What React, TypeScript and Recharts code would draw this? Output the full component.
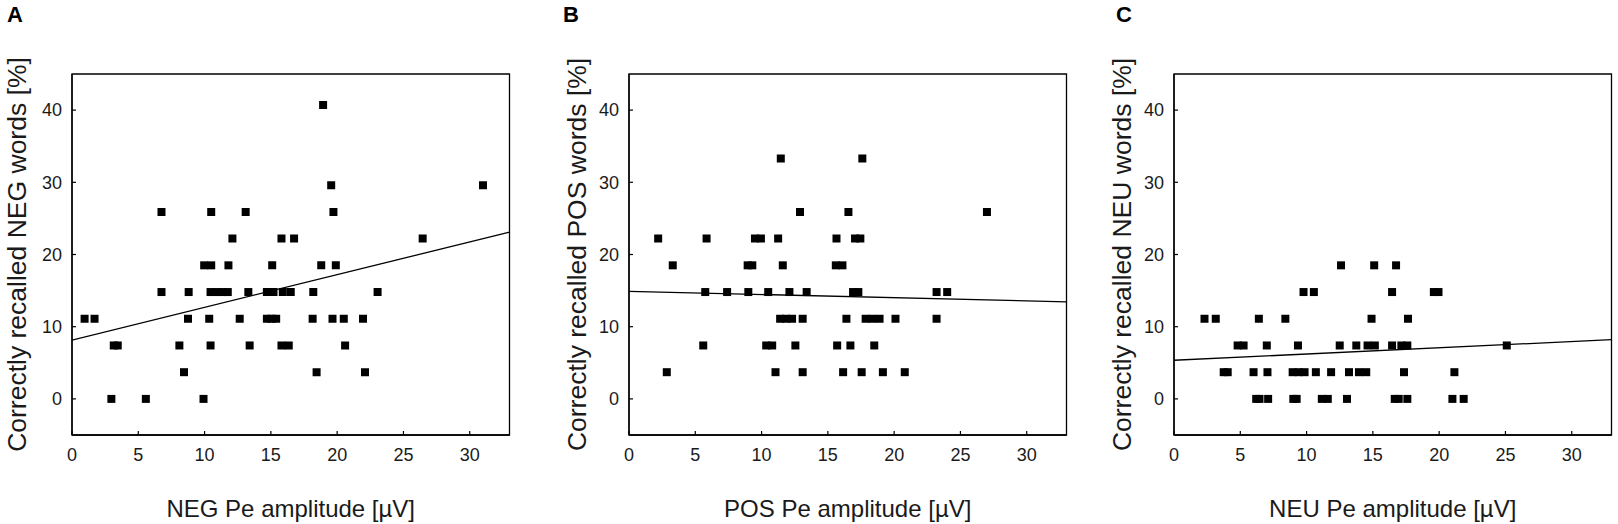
import React from "react";
import { Label, ReferenceArea, Scatter, ScatterChart, XAxis, YAxis, ZAxis } from "recharts";

const xTicks = [0, 5, 10, 15, 20, 25, 30];
const yTicks = [0, 10, 20, 30, 40];
const fitX = [0, 33];

// NEG panel
const negAmplitude = [
  18.94, 19.55, 31.0, 6.75, 10.5, 13.1, 19.72, 12.1, 15.8, 16.75, 26.45,
  9.97, 10.5, 11.8, 15.1, 18.8, 19.9,
  6.75, 8.8, 10.45, 10.9, 11.35, 11.75, 13.3, 14.7, 15.2, 15.9, 16.5, 18.2, 23.05,
  0.95, 1.7, 8.75, 10.35, 12.65, 14.7, 15.05, 15.4, 18.15, 19.65, 20.5, 21.95,
  3.15, 3.45, 8.1, 10.45, 13.4, 15.8, 16.35, 20.6,
  8.45, 18.45, 22.1, 2.97, 5.57, 9.92,
];
const negRecall = [
  40.7, 29.6, 29.6, 25.9, 25.9, 25.9, 25.9, 22.2, 22.2, 22.2, 22.2,
  18.5, 18.5, 18.5, 18.5, 18.5, 18.5,
  14.8, 14.8, 14.8, 14.8, 14.8, 14.8, 14.8, 14.8, 14.8, 14.8, 14.8, 14.8, 14.8,
  11.1, 11.1, 11.1, 11.1, 11.1, 11.1, 11.1, 11.1, 11.1, 11.1, 11.1, 11.1,
  7.4, 7.4, 7.4, 7.4, 7.4, 7.4, 7.4, 7.4,
  3.7, 3.7, 3.7, 0, 0, 0,
];
const negFit = [8.15, 23.1];

// POS panel
const posAmplitude = [
  11.45, 17.6, 12.9, 16.55, 27.0,
  2.2, 5.85, 9.5, 9.95, 11.25, 15.65, 17.05, 17.45,
  3.3, 8.95, 9.3, 11.6, 15.6, 16.1,
  5.75, 7.4, 9.0, 10.5, 12.1, 13.4, 16.9, 17.3, 23.2, 24.0,
  11.4, 11.85, 12.3, 13.1, 16.4, 17.85, 18.35, 18.9, 20.1, 23.2,
  5.6, 10.35, 10.8, 12.55, 15.7, 16.7, 18.5,
  2.85, 11.05, 13.1, 16.15, 17.55, 19.15, 20.8,
];
const posRecall = [
  33.3, 33.3, 25.9, 25.9, 25.9,
  22.2, 22.2, 22.2, 22.2, 22.2, 22.2, 22.2, 22.2,
  18.5, 18.5, 18.5, 18.5, 18.5, 18.5,
  14.8, 14.8, 14.8, 14.8, 14.8, 14.8, 14.8, 14.8, 14.8, 14.8,
  11.1, 11.1, 11.1, 11.1, 11.1, 11.1, 11.1, 11.1, 11.1, 11.1,
  7.4, 7.4, 7.4, 7.4, 7.4, 7.4, 7.4,
  3.7, 3.7, 3.7, 3.7, 3.7, 3.7, 3.7,
];
const posFit = [14.9, 13.45];

// NEU panel
const neuAmplitude = [
  12.6, 15.1, 16.75,
  9.77, 10.55, 16.45, 19.6, 19.95,
  2.3, 3.15, 6.4, 8.4, 14.9, 17.65,
  4.8, 5.25, 7.0, 9.35, 12.5, 13.75, 14.6, 15.15, 16.45, 17.15, 17.6, 25.1,
  3.75, 4.05, 6.0, 7.05, 8.95, 9.4, 9.85, 10.7, 11.85, 13.2, 13.95, 14.5, 17.35, 21.15,
  6.2, 6.45, 7.1, 9.0, 9.25, 11.15, 11.6, 13.05, 16.65, 16.95, 17.6, 21.0, 21.85,
];
const neuRecall = [
  18.5, 18.5, 18.5,
  14.8, 14.8, 14.8, 14.8, 14.8,
  11.1, 11.1, 11.1, 11.1, 11.1, 11.1,
  7.4, 7.4, 7.4, 7.4, 7.4, 7.4, 7.4, 7.4, 7.4, 7.4, 7.4, 7.4,
  3.7, 3.7, 3.7, 3.7, 3.7, 3.7, 3.7, 3.7, 3.7, 3.7, 3.7, 3.7, 3.7, 3.7,
  0, 0, 0, 0, 0, 0, 0, 0, 0, 0, 0, 0, 0,
];
const neuFit = [5.35, 8.2];

const font = "'Liberation Sans', Arial, sans-serif";
const ink = "#1a1a1a";

type PanelProps = {
  letter: string;
  letterLeft: number;
  left: number;
  width: number;
  axisWidth: number;
  titleOffset: number;
  xTitle: string;
  yTitle: string;
  amplitude: number[];
  recall: number[];
  fit: number[];
};

function Panel(p: PanelProps) {
  const points = p.amplitude.map((x, i) => ({ x, y: p.recall[i] }));
  const fitLine = fitX.map((x, i) => ({ x, y: p.fit[i] }));
  const tick = { fill: ink, fontSize: 18, fontFamily: font };

  return (
    <>
      <div
        style={{
          position: "absolute",
          left: p.letterLeft,
          top: 4,
          fontSize: 22,
          lineHeight: "22px",
          fontWeight: 700,
          fontFamily: font,
          color: "#000",
        }}
      >
        {p.letter}
      </div>
      <div style={{ position: "absolute", left: p.left, top: 0 }}>
        <ScatterChart
          width={p.width}
          height={524}
          margin={{ top: 74, right: p.width - p.axisWidth - 437.5, bottom: 49, left: 0 }}
          style={{ overflow: "visible" }}
        >
          <XAxis
            type="number"
            dataKey="x"
            domain={[0, 33]}
            ticks={xTicks}
            interval={0}
            allowDataOverflow
            height={40}
            tickSize={-4}
            tickMargin={17}
            tick={tick}
            axisLine={{ stroke: "#000", strokeWidth: 1.3 }}
            tickLine={{ stroke: "#000", strokeWidth: 1.2 }}
          >
            <Label
              value={p.xTitle}
              position="bottom"
              offset={25}
              style={{ fontSize: 24, fill: ink, fontFamily: font }}
            />
          </XAxis>
          <YAxis
            type="number"
            dataKey="y"
            domain={[-5, 45]}
            ticks={yTicks}
            interval={0}
            allowDataOverflow
            width={p.axisWidth}
            tickSize={-4}
            tickMargin={14}
            tick={tick}
            axisLine={{ stroke: "#000", strokeWidth: 1.3 }}
            tickLine={{ stroke: "#000", strokeWidth: 1.2 }}
          >
            <Label
              value={p.yTitle}
              angle={-90}
              position="insideLeft"
              offset={p.titleOffset}
              style={{ textAnchor: "middle", fontSize: 26.5, fill: ink, fontFamily: font }}
            />
          </YAxis>
          <ZAxis range={[72, 72]} />
          <ReferenceArea x1={0} x2={33} y1={-5} y2={45} fill="none" stroke="#000" strokeWidth={1.3} />
          <Scatter data={points} shape="square" fill="#000" isAnimationActive={false} />
          <Scatter
            data={fitLine}
            line={{ stroke: "#000", strokeWidth: 1.3 }}
            shape={() => null}
            isAnimationActive={false}
          />
        </ScatterChart>
      </div>
    </>
  );
}

export default function App() {
  return (
    <div
      style={{
        position: "absolute",
        left: 0,
        top: 0,
        width: 1618,
        height: 524,
        background: "#fff",
        overflow: "hidden",
      }}
    >
      <Panel
        letter="A"
        letterLeft={7}
        left={0}
        width={530}
        axisWidth={72}
        titleOffset={17}
        xTitle="NEG Pe amplitude [µV]"
        yTitle="Correctly recalled NEG words [%]"
        amplitude={negAmplitude}
        recall={negRecall}
        fit={negFit}
      />
      <Panel
        letter="B"
        letterLeft={563}
        left={560}
        width={530}
        axisWidth={69}
        titleOffset={17}
        xTitle="POS Pe amplitude [µV]"
        yTitle="Correctly recalled POS words [%]"
        amplitude={posAmplitude}
        recall={posRecall}
        fit={posFit}
      />
      <Panel
        letter="C"
        letterLeft={1116}
        left={1100}
        width={518}
        axisWidth={74}
        titleOffset={22}
        xTitle="NEU Pe amplitude [µV]"
        yTitle="Correctly recalled NEU words [%]"
        amplitude={neuAmplitude}
        recall={neuRecall}
        fit={neuFit}
      />
    </div>
  );
}
